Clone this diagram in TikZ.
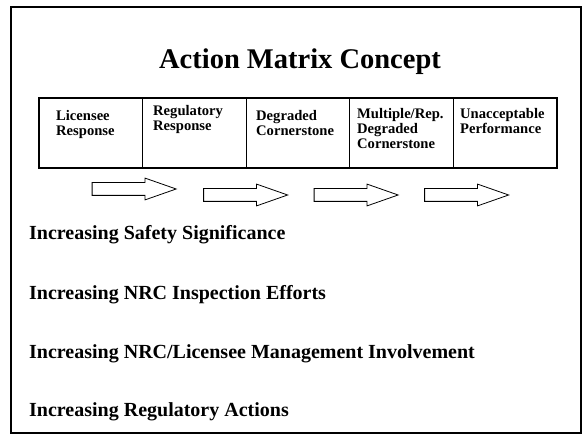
\documentclass[tikz,border=0pt]{standalone}
\usepackage{fontspec}
\setmainfont{Liberation Serif}
\usetikzlibrary{shapes.arrows}

\begin{document}
\begin{tikzpicture}
        [x=1pt, y=-1pt,
        cell/.style={draw, line width=1.3pt, minimum width=103.6pt, minimum height=70pt, inner sep=0pt, outer sep=0pt},
        celltext/.style={anchor=north west, inner sep=0pt, align=left, font=\fontsize{14.6}{15}\selectfont\bfseries},
        heading/.style={anchor=base, inner sep=0pt, font=\fontsize{28.5}{32}\selectfont\bfseries},
        trend/.style={anchor=base west, inner sep=0pt, font=\fontsize{20}{24}\selectfont\bfseries},
        blockarrow/.style={single arrow, draw, line width=0.8pt, minimum height=84pt, inner sep=6pt,
          single arrow head extend=4.5pt, single arrow tip angle=38.6, single arrow head indent=0pt}]

        \useasboundingbox (0,0) rectangle (582,438);

        % outer frame
        \draw[line width=1.5pt] (11,7) rectangle (581,433);

        \node[heading] (title) at (300,69) {Action Matrix Concept};

        % matrix columns
        \node[cell] (lic) at (90.8,133) {};
        \node[cell] (reg) at (194.4,133) {};
        \node[cell] (deg) at (298,133) {};
        \node[cell] (mult) at (401.6,133) {};
        \node[cell] (unacc) at (505.2,133) {};

        \node[celltext] (lictext) at (56,110) {Licensee\\Response};
        \node[celltext] (regtext) at (153,105.5) {Regulatory\\Response};
        \node[celltext] (degtext) at (256,110) {Degraded\\Cornerstone};
        \node[celltext] (multtext) at (357,108) {Multiple/Rep.\\Degraded\\Cornerstone};
        \node[celltext] (unacctext) at (460,108) {Unacceptable\\Performance};

        % block arrows
        \node[blockarrow] (a1) at (125,189) {};
        \node[blockarrow] (a2) at (236.5,195) {};
        \node[blockarrow] (a3) at (347,195) {};
        \node[blockarrow] (a4) at (457.5,195) {};

        % trends
        \node[trend] (safety) at (29,240) {Increasing Safety Significance};
        \node[trend] (inspect) at (29,300) {Increasing NRC Inspection Efforts};
        \node[trend] (mgmt) at (29,359) {Increasing NRC/Licensee Management Involvement};
        \node[trend] (actions) at (29,417) {Increasing Regulatory Actions};

\end{tikzpicture}
\end{document}
